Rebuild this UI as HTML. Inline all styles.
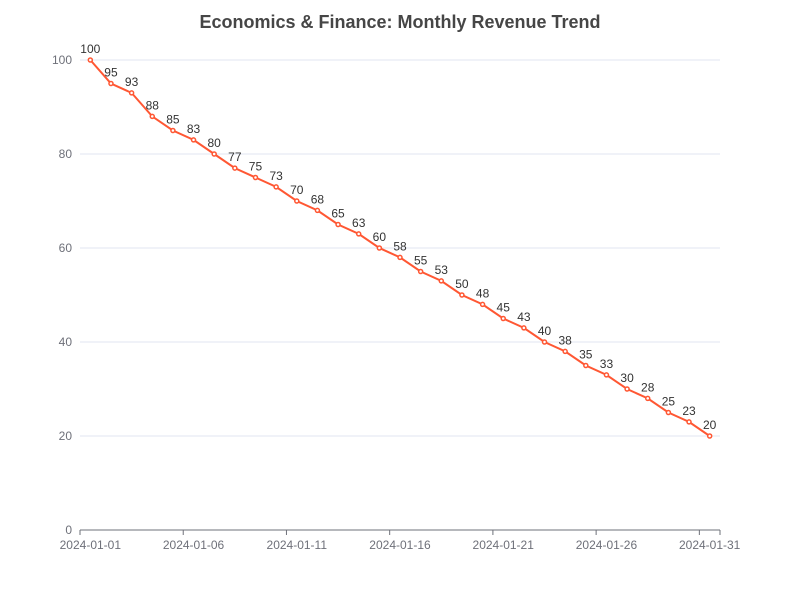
<!DOCTYPE html>
<html><head><meta charset="utf-8">
<style>
html,body{margin:0;padding:0;background:#fff;}
svg{display:block;font-family:"Liberation Sans",sans-serif;}
</style></head>
<body>
<svg id="chart" width="800" height="600" viewBox="0 0 800 600">
<text x="400" y="28" text-anchor="middle" font-size="18" font-weight="bold" fill="#464646">Economics &amp; Finance: Monthly Revenue Trend</text>
<g id="grid"></g><g id="axes"></g><g id="series"></g>
</svg>
<script>
const categories = [];
for (let d = 1; d <= 31; d++) categories.push('2024-01-' + String(d).padStart(2,'0'));
const values = [100,95,93,88,85,83,80,77,75,73,70,68,65,63,60,58,55,53,50,48,45,43,40,38,35,33,30,28,25,23,20];
const yTicks = [0,20,40,60,80,100];

const NS='http://www.w3.org/2000/svg';
const L=80,R=720,T=60,B=530,yMax=100;
const band=(R-L)/categories.length;
const xS=i=>L+band*(i+0.5);
const yS=v=>B-(v/yMax)*(B-T);
function mk(tag,attrs,parent){const e=document.createElementNS(NS,tag);for(const k in attrs)e.setAttribute(k,attrs[k]);parent.appendChild(e);return e;}
const grid=document.getElementById('grid'),axes=document.getElementById('axes'),series=document.getElementById('series');

yTicks.forEach(v=>{
  if(v>0){const g=mk('line',{x1:L,x2:R,y1:yS(v),y2:yS(v),stroke:'#e0e6f1','stroke-width':1},grid);
  
  }
  const t=mk('text',{x:L-8,y:yS(v)+4,'text-anchor':'end','font-size':12,fill:'#6e7079'},axes);
  t.textContent=v;
  
  
});
const ax=mk('line',{x1:L,x2:R,y1:B,y2:B,stroke:'#6e7079','stroke-width':1},axes);


categories.forEach((c,i)=>{
  if(i%5===0){
    const tk=mk('line',{x1:L+band*i,x2:L+band*i,y1:B,y2:B+5,stroke:'#6e7079'},axes);
    
    
    const t=mk('text',{x:xS(i),y:B+19,'text-anchor':'middle','font-size':12,fill:'#6e7079'},axes);
    t.textContent=c;
    
    
  }
});
const endTick=mk('line',{x1:R,x2:R,y1:B,y2:B+5,stroke:'#6e7079'},axes);



const pts=values.map((v,i)=>xS(i)+','+yS(v)).join(' ');
const pl=mk('polyline',{points:pts,fill:'none',stroke:'#ff5733','stroke-width':2},series);


values.forEach((v,i)=>{
  const c=mk('circle',{cx:xS(i),cy:yS(v),r:2,fill:'#fff',stroke:'#ff5733','stroke-width':1.5},series);
  
  
  const t=mk('text',{x:xS(i),y:yS(v)-7,'text-anchor':'middle','font-size':12,fill:'#333'},series);
  t.textContent=v;
  
  
});
</script>
</body></html>
